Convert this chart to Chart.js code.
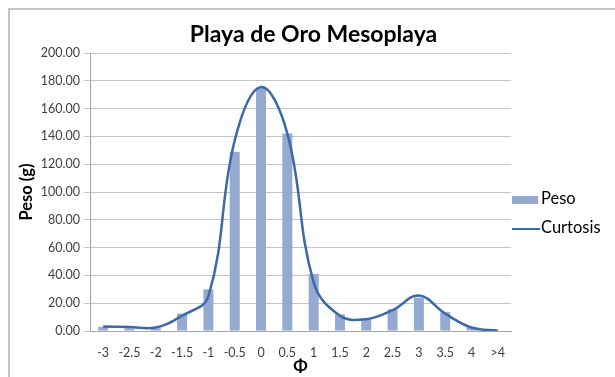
<!DOCTYPE html>
<html><head><meta charset="utf-8">
<script src="https://cdn.jsdelivr.net/npm/chart.js@4"></script>
<style>
html,body{margin:0;padding:0;background:#fff;overflow:hidden;}
#wrap{position:relative;width:615px;height:377px;}
#frame{position:absolute;left:8px;top:8px;width:700px;height:500px;border:2px solid #c6c6c6;box-sizing:border-box;}
canvas{position:absolute;left:0;top:0;}
.t{position:absolute;font-family:Lato,"Open Sans",sans-serif;color:#000;white-space:nowrap;}
</style></head>
<body><div id="wrap"><div id="frame"></div>
<canvas id="c" width="615" height="377"></canvas>
<div class="t" style="left:0;width:615px;text-align:center;top:19px;font-size:23px;font-weight:bold;padding-left:12px;box-sizing:border-box;">Playa de Oro Mesoplaya</div>
<div class="t" style="left:512px;top:188px;font-size:16.5px;"><span style="display:inline-block;width:26px;height:8px;background:#95a9d1;vertical-align:middle;margin-right:3px;"></span>Peso</div>
<div class="t" style="left:512px;top:217px;font-size:16.5px;"><span style="display:inline-block;width:28px;height:2.5px;background:#3d69a6;vertical-align:middle;margin-right:1px;"></span>Curtosis</div>
</div>
<script>
const categories = ["-3","-2.5","-2","-1.5","-1","-0.5","0","0.5","1","1.5","2","2.5","3","3.5","4",">4"];
const peso = [3, 2, 2, 12.5, 30, 129, 175, 142, 41, 12, 8.5, 15.6, 24, 13.5, 3, 0];
const curtosis = [3.3, 2.8, 2.5, 11, 25, 137, 175.5, 142, 35, 11, 8.5, 15, 25.5, 12.5, 2.5, 0.2];
const yTicks = [0,20,40,60,80,100,120,140,160,180,200];

new Chart(document.getElementById('c'), {
  data: {
    labels: categories,
    datasets: [
      {type:'line', label:'Curtosis', data: curtosis, borderColor:'#3d69a6', borderWidth:2.5, pointRadius:0, tension:0.4, fill:false, order:0},
      {type:'bar', label:'Peso', data: peso, backgroundColor:'#95a9d1', barPercentage:0.38, categoryPercentage:1, order:1}
    ]
  },
  options: {
    responsive:false, animation:false,
    layout:{padding:{left:0, top:53, right:104, bottom:0}},
    plugins:{legend:{display:false}, tooltip:{enabled:false}},
    scales:{
      x:{
        grid:{display:false},
        border:{display:true, color:'#a6a6a6', width:1},
        ticks:{color:'#404040', font:{family:'Lato', size:12.5}, padding:6, maxRotation:0, autoSkip:false},
        title:{display:true, text:'Φ', color:'#000', font:{family:'Lato', size:17, weight:'bold'}, padding:{top:0,bottom:0}},
        afterFit(s){ s.height = 46; }
      },
      y:{
        min:0, max:200,
        afterBuildTicks(s){ s.ticks = yTicks.map(v=>({value:v})); },
        grid:{color:'#c4c4c4', lineWidth:1, tickLength:6, drawTicks:true},
        border:{display:true, color:'#a6a6a6', width:1},
        ticks:{color:'#404040', font:{family:'Lato', size:12.5}, padding:4, callback:v=>Number(v).toFixed(2)},
        title:{display:true, text:'Peso (g)', color:'#000', font:{family:'Lato', size:16.5, weight:'bold'}, padding:{top:17,bottom:4}},
        afterFit(s){ s.width = 90; }
      }
    }
  }
});
</script>
</body></html>
